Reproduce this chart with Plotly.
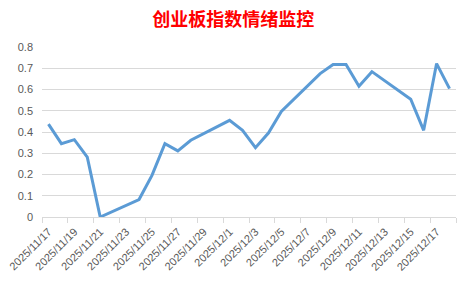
import plotly.graph_objects as go

dates = ["2025-11-17", "2025-11-18", "2025-11-19", "2025-11-20", "2025-11-21",
         "2025-11-24", "2025-11-25", "2025-11-26", "2025-11-27", "2025-11-28",
         "2025-12-01", "2025-12-02", "2025-12-03", "2025-12-04", "2025-12-05",
         "2025-12-08", "2025-12-09", "2025-12-10", "2025-12-11", "2025-12-12",
         "2025-12-15", "2025-12-16", "2025-12-17", "2025-12-18"]
values = [0.437, 0.345, 0.364, 0.282, 0.0,
          0.082, 0.196, 0.345, 0.311, 0.361,
          0.455, 0.408, 0.326, 0.395, 0.497,
          0.675, 0.718, 0.718, 0.615, 0.684,
          0.554, 0.408, 0.722, 0.604]

tick_dates = ["2025-11-17", "2025-11-19", "2025-11-21", "2025-11-23", "2025-11-25",
              "2025-11-27", "2025-11-29", "2025-12-01", "2025-12-03", "2025-12-05",
              "2025-12-07", "2025-12-09", "2025-12-11", "2025-12-13", "2025-12-15",
              "2025-12-17"]
tick_labels = ["2025/11/17", "2025/11/19", "2025/11/21", "2025/11/23", "2025/11/25",
               "2025/11/27", "2025/11/29", "2025/12/1", "2025/12/3", "2025/12/5",
               "2025/12/7", "2025/12/9", "2025/12/11", "2025/12/13", "2025/12/15",
               "2025/12/17"]
y_ticks = [0, 0.1, 0.2, 0.3, 0.4, 0.5, 0.6, 0.7, 0.8]
y_labels = ["0", "0.1", "0.2", "0.3", "0.4", "0.5", "0.6", "0.7", "0.8"]

fig = go.Figure()
fig.add_trace(go.Scatter(
    x=dates, y=values, mode="lines",
    line=dict(color="#5B9BD5", width=3),
    hoverinfo="x+y", showlegend=False,
))

fig.update_layout(
    width=472, height=282,
    margin=dict(l=42, r=16, t=47, b=65),
    paper_bgcolor="white", plot_bgcolor="white",
    title=dict(
        text="<b>创业板指数情绪监控</b>",
        font=dict(family="Noto Sans CJK SC", size=18, color="#FF0000"),
        x=0.494, xanchor="center", y=0.93, yanchor="middle",
    ),
    font=dict(family="Liberation Sans, Arial", size=11, color="#595959"),
)

fig.update_xaxes(
    type="date", automargin=False,
    range=["2025-11-16 12:00", "2025-12-18 12:00"],
    tickmode="array", tickvals=tick_dates, ticktext=tick_labels,
    tickangle=-45, ticks="", showgrid=False,
    showline=True, linecolor="#D9D9D9", linewidth=1,
    ticklabelstandoff=3,
    tickfont=dict(size=11, color="#595959"),
    minor=dict(ticks="outside", tick0="2025-11-16 12:00", dtick=2 * 86400000,
               ticklen=5, tickcolor="#D9D9D9", tickwidth=1, showgrid=False),
)
fig.update_yaxes(
    range=[0, 0.8], automargin=False, tickmode="array", tickvals=y_ticks, ticktext=y_labels,
    showgrid=True, gridcolor="#D9D9D9", gridwidth=1,
    zeroline=False, showline=False, ticks="",
    ticklabelstandoff=8,
    tickfont=dict(size=11, color="#595959"),
)

fig.write_html("out.html")
